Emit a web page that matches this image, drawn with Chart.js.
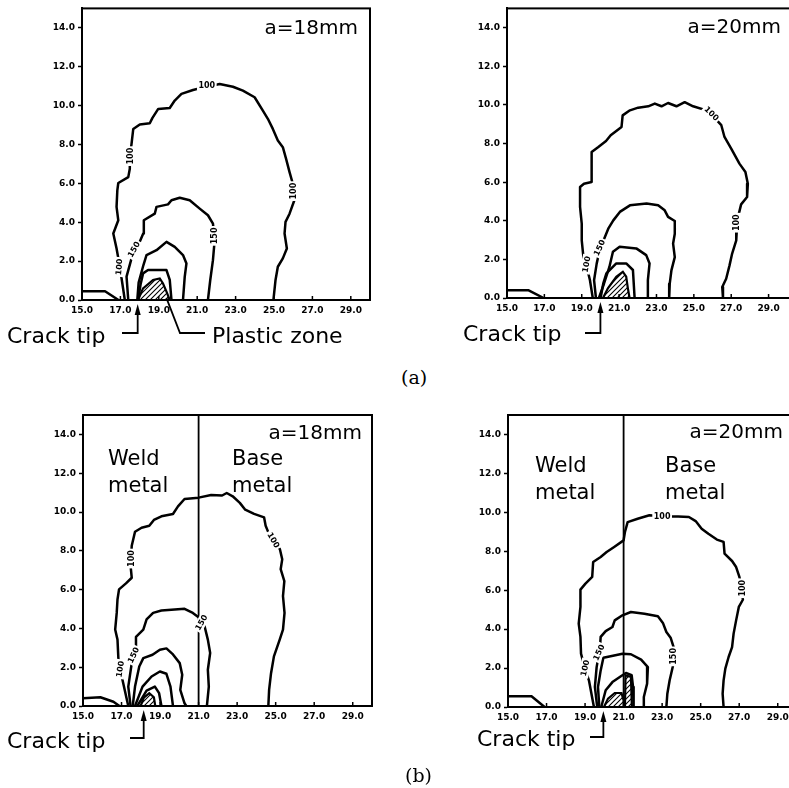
<!DOCTYPE html>
<html><head><meta charset="utf-8">
<script src="https://cdn.jsdelivr.net/npm/chart.js@4.4.1/dist/chart.umd.min.js"></script>
<style>
html,body{margin:0;padding:0;background:#fff;overflow:hidden;width:789px;height:788px;position:relative;}
canvas{position:absolute;}
.cap{position:absolute;font-family:"DejaVu Serif",serif;font-size:19px;line-height:22px;color:#000;}
</style></head><body>
<canvas id="pA18" width="400" height="360" style="left:0;top:0"></canvas>
<canvas id="pA20" width="400" height="360" style="left:400px;top:0"></canvas>
<canvas id="pB18" width="400" height="388" style="left:0;top:400px"></canvas>
<canvas id="pB20" width="400" height="388" style="left:400px;top:400px"></canvas>
<div class="cap" style="left:401px;top:366px">(a)</div>
<div class="cap" style="left:405px;top:764px">(b)</div>
<script>
// ---------- tick values / labels ----------
const xTickValues = [15,17,19,21,23,25,27,29];
const xTickLabels = ["15.0","17.0","19.0","21.0","23.0","25.0","27.0","29.0"];
const yTickValues = [0,2,4,6,8,10,12,14];
const yTickLabels = ["0.0","2.0","4.0","6.0","8.0","10.0","12.0","14.0"];

// ---------- (a) a=18mm ----------
const a18_edge = [[15,0.45],[16.2,0.45],[16.9,0]];
const a18_c1 = [[17.23,0],[16.97,1.71],[16.80,2.65],[16.63,3.42],[16.89,4.10],[16.80,4.79],[16.84,5.64],[16.89,6.02],[17.41,6.32],[17.49,6.75],[17.49,7.35],[17.58,8.03],[17.67,8.80],[18.01,9.03],[18.53,9.09],[18.67,9.37],[18.97,9.83],[19.57,9.88],[19.83,10.26],[20.18,10.60],[20.78,10.80],[21.22,10.91],[22.17,11.11],[22.86,10.97],[23.38,10.77],[23.99,10.43],[24.42,9.74],[24.68,9.32],[24.94,8.80],[25.20,8.21],[25.46,7.86],[25.63,7.26],[25.81,6.58],[25.98,5.98],[26.06,5.13],[25.81,4.44],[25.60,4.02],[25.55,3.42],[25.67,2.65],[25.46,2.14],[25.20,1.71],[25.08,1.03],[24.97,0]];
const a18_c2 = [[17.41,0],[17.32,1.20],[17.58,2.14],[17.93,2.82],[18.19,3.42],[18.22,4.10],[18.79,4.44],[18.88,4.79],[19.48,4.92],[19.66,5.13],[20.09,5.26],[20.61,5.13],[21.13,4.70],[21.56,4.36],[21.82,3.93],[21.91,3.08],[21.82,2.05],[21.68,1.03],[21.56,0]];
const a18_c3 = [[17.88,0],[17.95,0.9],[18.2,1.8],[18.36,2.31],[18.88,2.56],[19.40,2.99],[19.83,2.73],[20.26,2.31],[20.44,1.88],[20.35,1.19],[20.26,0]];
const a18_c4 = [[17.92,0],[18.05,0.8],[18.18,1.37],[18.44,1.54],[19.40,1.54],[19.57,1.03],[19.66,0]];
const a18_plastic = [[17.92,0],[18.18,0.6],[18.70,1.03],[19.05,1.11],[19.22,0.85],[19.40,0.43],[19.57,0]];
const a18_levels = [
  {x:21.5,y:11.02,r:0,t:"100"},{x:17.5,y:7.4,r:-90,t:"100"},{x:26.02,y:5.6,r:-90,t:"100"},
  {x:16.93,y:1.7,r:-85,t:"100"},{x:17.7,y:2.6,r:-60,t:"150"},{x:21.9,y:3.3,r:-90,t:"150"}];

// ---------- (a) a=20mm ----------
const a20_edge = [[15,0.40],[16.16,0.40],[16.96,0]];
const a20_c1 = [[19.59,0],[19.44,0.92],[19.27,1.61],[19.09,2.12],[19.00,2.99],[19.00,3.85],[18.91,4.72],[18.91,5.75],[19.12,5.92],[19.53,6.01],[19.53,6.79],[19.53,7.56],[19.89,7.82],[20.30,8.13],[20.55,8.43],[21.13,8.86],[21.19,9.46],[21.58,9.72],[22.02,9.86],[22.56,9.93],[22.91,10.07],[23.27,9.93],[23.62,10.10],[24.07,9.93],[24.51,10.14],[24.96,9.93],[25.76,9.69],[26.47,8.95],[26.64,8.34],[27.00,7.74],[27.44,6.96],[27.76,6.53],[27.89,5.92],[27.85,5.23],[27.53,4.85],[27.41,4.37],[27.30,3.51],[27.27,2.99],[27.05,2.30],[26.91,1.69],[26.73,1.00],[26.52,0.57],[26.56,0]];
const a20_c2 = [[19.76,0],[19.66,0.92],[19.80,1.78],[19.98,2.56],[20.24,3.16],[20.42,3.59],[20.69,4.02],[21.04,4.46],[21.58,4.80],[22.47,4.89],[23.09,4.80],[23.44,4.54],[23.62,4.20],[23.98,3.99],[23.98,3.33],[23.89,2.82],[23.98,2.12],[23.80,1.43],[23.71,0.74],[23.68,0]];
const a20_c3 = [[19.92,0],[20.19,0.74],[20.48,1.61],[20.67,2.40],[21.03,2.65],[21.92,2.57],[22.45,2.22],[22.63,1.79],[22.54,0.93],[22.54,0]];
const a20_c4 = [[20.01,0],[20.15,0.74],[20.32,1.28],[20.85,1.79],[21.38,1.79],[21.74,1.45],[21.83,0]];
const a20_plastic = [[20.14,0],[20.40,0.5],[20.85,1.1],[21.20,1.36],[21.38,1.1],[21.47,0.5],[21.56,0]];
const a20_levels = [
  {x:25.95,y:9.55,r:45,t:"100"},{x:27.3,y:3.9,r:-90,t:"100"},{x:19.25,y:1.75,r:-80,t:"100"},
  {x:19.95,y:2.6,r:-65,t:"150"}];

// ---------- (b) a=18mm ----------
const b18_edge = [[15,0.40],[15.9,0.45],[16.58,0.22],[16.89,0]];
const b18_c1 = [[17.35,0],[17.01,1.52],[16.84,2.38],[16.79,3.42],[16.67,3.94],[16.75,4.80],[16.79,5.49],[16.87,6.01],[17.23,6.32],[17.53,6.61],[17.47,7.22],[17.53,8.26],[17.70,8.98],[18.04,9.19],[18.44,9.29],[18.68,9.59],[19.07,9.78],[19.67,9.90],[19.93,10.29],[20.27,10.67],[21.00,10.74],[21.65,10.88],[22.22,10.85],[22.46,10.98],[22.77,10.81],[23.14,10.47],[23.42,10.12],[23.88,9.90],[24.40,9.72],[24.48,9.29],[24.62,8.95],[25.00,8.43],[25.22,8.08],[25.34,7.56],[25.26,7.05],[25.45,6.44],[25.38,5.66],[25.46,4.80],[25.38,3.94],[25.21,3.42],[24.91,2.56],[24.76,1.69],[24.66,0.83],[24.62,0]];
const b18_c2 = [[17.47,0],[17.35,1.00],[17.53,2.21],[17.70,2.99],[17.75,3.56],[18.13,3.94],[18.30,4.46],[18.64,4.80],[19.07,4.92],[19.76,4.97],[20.27,5.01],[20.70,4.80],[21.05,4.54],[21.31,4.11],[21.48,3.42],[21.60,2.73],[21.48,1.87],[21.53,1.00],[21.43,0]];
const b18_c3 = [[17.58,0],[17.70,1.00],[17.92,2.04],[18.13,2.47],[18.61,2.64],[18.99,2.90],[19.33,2.97],[19.64,2.69],[20.02,2.21],[20.15,1.61],[20.05,0.83],[20.27,0.14],[20.36,0]];
const b18_c4 = [[17.70,0],[18.09,1.00],[18.56,1.52],[18.99,1.78],[19.33,1.66],[19.54,1.00],[19.67,0]];
const b18_c5 = [[17.82,0],[18.30,0.79],[18.73,1.00],[18.95,0.66],[19.07,0]];
const b18_plastic = [[17.99,0],[18.16,0.43],[18.44,0.66],[18.68,0.45],[18.75,0]];
const b18_levels = [
  {x:17.5,y:7.6,r:-90,t:"100"},{x:24.88,y:8.55,r:60,t:"100"},{x:16.93,y:1.9,r:-82,t:"100"},
  {x:17.62,y:2.62,r:-65,t:"150"},{x:21.15,y:4.3,r:-60,t:"150"}];

// ---------- (b) a=20mm ----------
const b20_edge = [[15,0.55],[16.22,0.55],[16.9,0]];
const b20_c1 = [[19.46,0],[19.20,1.37],[18.97,2.05],[18.79,2.74],[18.76,3.60],[18.67,4.28],[18.76,5.14],[18.76,6.03],[19.02,6.34],[19.37,6.68],[19.42,7.45],[19.81,7.71],[20.12,7.96],[20.51,8.22],[21.00,8.56],[21.07,8.99],[21.21,9.50],[21.73,9.67],[22.34,9.85],[23.13,9.79],[23.83,9.79],[24.39,9.76],[24.74,9.55],[25.05,9.16],[25.40,8.90],[25.84,8.60],[26.19,8.48],[26.24,7.88],[26.63,7.50],[26.84,7.19],[27.01,6.68],[27.12,6.16],[27.19,5.51],[26.98,5.14],[26.84,4.45],[26.71,3.77],[26.63,3.08],[26.45,2.57],[26.28,1.97],[26.19,1.37],[26.14,0.68],[26.19,0]];
const b20_c2 = [[19.63,0],[19.51,1.03],[19.60,2.05],[19.77,3.00],[19.81,3.60],[20.07,3.90],[20.42,4.11],[20.54,4.45],[20.94,4.71],[21.38,4.88],[22.08,4.79],[22.78,4.66],[23.04,4.32],[23.22,3.85],[23.44,3.56],[23.62,3.00],[23.57,2.14],[23.39,1.37],[23.27,0.68],[23.22,0]];
const b20_c3 = [[19.74,0],[19.67,1.03],[19.81,1.88],[19.95,2.53],[20.51,2.65],[20.94,2.74],[21.38,2.71],[21.91,2.43],[22.26,2.05],[22.22,1.20],[22.05,0.51],[22.05,0]];
const b20_c4 = [[19.84,0],[20.07,0.86],[20.42,1.28],[20.86,1.58],[21.12,1.75],[21.42,1.63],[21.49,1.03],[21.52,0]];
const b20_plastic1 = [[19.98,0],[20.19,0.43],[20.54,0.72],[20.89,0.72],[21.0,0.34],[21.0,0]];
const b20_plastic2 = [[21.07,0],[21.10,1.63],[21.38,1.54],[21.43,0]];
const b20_levels = [
  {x:23.0,y:9.8,r:0,t:"100"},{x:27.15,y:6.1,r:-90,t:"100"},{x:19.0,y:2.0,r:-78,t:"100"},
  {x:19.72,y:2.8,r:-65,t:"150"},{x:23.6,y:2.6,r:-90,t:"150"}];

const weldLine = [[21,0],[21,15]];

// ---------- helpers ----------
function makeHatch(){
  const c=document.createElement('canvas'); c.width=5; c.height=5;
  const g=c.getContext('2d');
  g.fillStyle='#fff'; g.fillRect(0,0,5,5);
  g.strokeStyle='#000'; g.lineWidth=1.1;
  g.beginPath();
  g.moveTo(-1,6); g.lineTo(6,-1);
  g.moveTo(-1,1); g.lineTo(1,-1);
  g.moveTo(4,6); g.lineTo(6,4);
  g.stroke();
  return g.createPattern(c,'repeat');
}
const hatch = makeHatch();
const pts = a => a.map(([x,y])=>({x,y}));
const lineDS = (a,w) => ({data:pts(a),borderColor:'#000',borderWidth:w||2.5,pointRadius:0,fill:false,tension:0,borderJoinStyle:'round'});
const hatchDS = a => ({data:pts(a),borderColor:'#000',borderWidth:2.2,pointRadius:0,fill:'origin',backgroundColor:hatch,tension:0});

const FONT = '"DejaVu Sans", sans-serif';

function arrowUp(ctx,x,yTip){
  ctx.beginPath();
  ctx.moveTo(x,yTip); ctx.lineTo(x-3,yTip+11); ctx.lineTo(x+3,yTip+11); ctx.closePath(); ctx.fill();
}

function makePanel(id, P){
  const datasets = [];
  P.lines.forEach(l=>datasets.push(lineDS(l)));
  P.hatches.forEach(h=>datasets.push(hatchDS(h)));
  if (P.weld) datasets.push(lineDS(weldLine,1.8));
  const deco = {
    id:'deco'+id,
    afterDatasetsDraw(chart){
      const ctx=chart.ctx, xs=chart.scales.x, ys=chart.scales.y;
      ctx.save();
      ctx.font='bold 8px '+FONT;
      ctx.textAlign='center'; ctx.textBaseline='middle';
      P.levels.forEach(L=>{
        const px=xs.getPixelForValue(L.x), py=ys.getPixelForValue(L.y);
        ctx.save(); ctx.translate(px,py); ctx.rotate(L.r*Math.PI/180);
        const w=ctx.measureText(L.t).width;
        ctx.fillStyle='#fff'; ctx.fillRect(-w/2-1.5,-5,w+3,10);
        ctx.fillStyle='#000'; ctx.fillText(L.t,0,0.5);
        ctx.restore();
      });
      ctx.restore();
    },
    afterDraw(chart){
      const ctx=chart.ctx, a=chart.chartArea, xs=chart.scales.x, ys=chart.scales.y;
      ctx.save();
      ctx.strokeStyle='#000'; ctx.fillStyle='#000';
      ctx.lineWidth=2;
      ctx.strokeRect(a.left,a.top,a.right-a.left,a.bottom-a.top);
      // inner x tick marks
      ctx.lineWidth=1.5;
      xTickValues.forEach(v=>{ if(v===15) return; const px=xs.getPixelForValue(v);
        ctx.beginPath(); ctx.moveTo(px,a.bottom); ctx.lineTo(px,a.bottom-4); ctx.stroke(); });
      // texts
      ctx.textBaseline='middle';
      ctx.font='20px '+FONT; ctx.textAlign='right';
      ctx.fillText(P.title.t,P.title.x,P.title.y);
      ctx.textAlign='left';
      (P.texts||[]).forEach(T=>{ ctx.font=T.size+'px '+FONT; ctx.fillText(T.t,T.x,T.y); });
      // crack tip leader
      const C=P.crack; const cx=xs.getPixelForValue(C.at);
      ctx.font='22px '+FONT; ctx.fillText('Crack tip',C.x,C.y);
      ctx.lineWidth=1.8;
      ctx.beginPath(); ctx.moveTo(C.lx,C.ly); ctx.lineTo(cx,C.ly); ctx.lineTo(cx,a.bottom+12); ctx.stroke();
      arrowUp(ctx,cx,a.bottom+4);
      if (P.plastic){
        const Q=P.plastic;
        const qx=xs.getPixelForValue(Q.fromX), qy=ys.getPixelForValue(Q.fromY);
        ctx.beginPath(); ctx.moveTo(qx,qy); ctx.lineTo(Q.kx,Q.ky); ctx.lineTo(Q.ex,Q.ky); ctx.stroke();
        ctx.font='22px '+FONT; ctx.fillText('Plastic zone',Q.tx,Q.ty);
      }
      ctx.restore();
    }
  };
  return new Chart(document.getElementById(id), {
    type:'line',
    data:{datasets},
    options:{
      responsive:false, animation:false, events:[],
      layout:{padding:{top:P.padTop,right:P.padRight,left:0,bottom:0}},
      plugins:{legend:{display:false},tooltip:{enabled:false}},
      scales:{
        x:{type:'linear',min:15,max:P.xMax,
          afterBuildTicks:s=>{s.ticks=xTickValues.map(v=>({value:v}));},
          afterFit:s=>{s.height=P.xH;},
          ticks:{callback:(v,i)=>xTickLabels[i],font:{family:'DejaVu Sans',size:9,weight:'bold'},color:'#000',padding:5,maxRotation:0,autoSkip:false},
          grid:{display:true,drawOnChartArea:false,drawTicks:false,color:'#000'},
          border:{display:true,color:'#000',width:2}},
        y:{type:'linear',min:0,max:15,
          afterBuildTicks:s=>{s.ticks=yTickValues.map(v=>({value:v}));},
          afterFit:s=>{s.width=P.yW;},
          ticks:{callback:(v,i)=>yTickLabels[i],font:{family:'DejaVu Sans',size:9,weight:'bold'},color:'#000',padding:3,autoSkip:false},
          grid:{display:true,drawOnChartArea:false,drawTicks:true,tickLength:4,tickWidth:1.5,color:'#000'},
          border:{display:true,color:'#000',width:2}}
      }
    },
    plugins:[deco]
  });
}

makePanel('pA18',{
  yW:82,padTop:8,padRight:30,xH:60,xMax:30,
  lines:[a18_edge,a18_c1,a18_c2,a18_c3,a18_c4], hatches:[a18_plastic], levels:a18_levels,
  title:{t:'a=18mm',x:358,y:29},
  crack:{at:17.9,x:7,y:337,lx:122,ly:333},
  plastic:{fromX:19.4,fromY:0.1,kx:180,ky:333,ex:205,tx:212,ty:337}
});
makePanel('pA20',{
  yW:107,padTop:8,padRight:9,xH:62,xMax:30.2,
  lines:[a20_edge,a20_c1,a20_c2,a20_c3,a20_c4], hatches:[a20_plastic], levels:a20_levels,
  title:{t:'a=20mm',x:381,y:28},
  crack:{at:20.0,x:63,y:335,lx:185,ly:333}
});
makePanel('pB18',{
  yW:83,padTop:15,padRight:28,xH:82,xMax:30,weld:true,
  lines:[b18_edge,b18_c1,b18_c2,b18_c3,b18_c4,b18_c5], hatches:[b18_plastic], levels:b18_levels,
  title:{t:'a=18mm',x:362,y:34},
  texts:[{t:'Weld',x:108,y:60,size:21},{t:'metal',x:108,y:87,size:21},{t:'Base',x:232,y:60,size:21},{t:'metal',x:232,y:87,size:21}],
  crack:{at:18.15,x:7,y:342,lx:130,ly:338}
});
makePanel('pB20',{
  yW:108,padTop:15,padRight:3,xH:81,xMax:30,weld:true,
  lines:[b20_edge,b20_c1,b20_c2,b20_c3,b20_c4], hatches:[b20_plastic1,b20_plastic2], levels:b20_levels,
  title:{t:'a=20mm',x:383,y:33},
  texts:[{t:'Weld',x:135,y:67,size:21},{t:'metal',x:135,y:94,size:21},{t:'Base',x:265,y:67,size:21},{t:'metal',x:265,y:94,size:21}],
  crack:{at:19.95,x:77,y:340,lx:190,ly:337}
});
</script>
</body></html>
